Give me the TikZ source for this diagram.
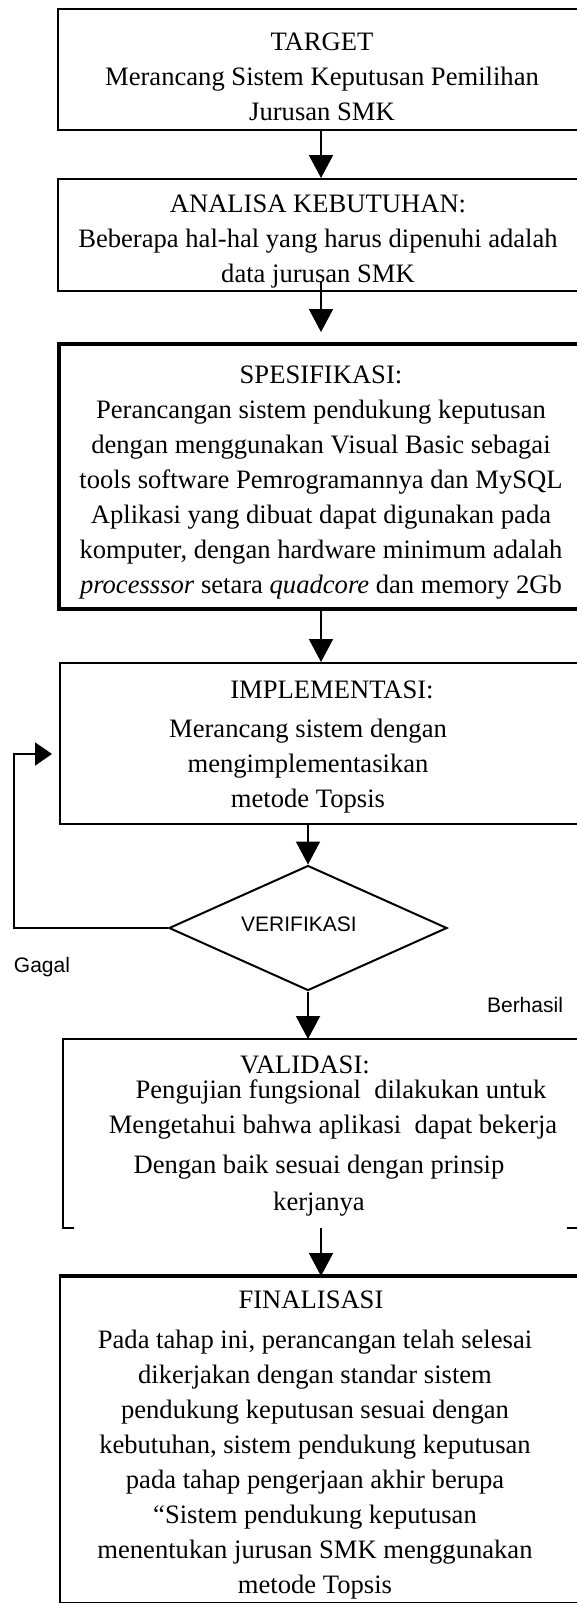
\documentclass[tikz,border=0pt]{standalone}
\usepackage{fontspec}
\setmainfont{Liberation Serif}
\setsansfont{Liberation Sans}
\usetikzlibrary{arrows.meta,shapes.geometric,calc}

\begin{document}
\begin{tikzpicture}[x=0.5pt,y=-0.5pt,
  stage/.style={draw,line width=1pt,anchor=north west,inner sep=0pt},
  txt/.style={anchor=base,align=center,inner sep=0pt,font=\fontsize{13.3}{17.5}\selectfont},
  cond/.style={draw,diamond,line width=1pt,minimum width=139pt,minimum height=62.5pt,inner sep=0pt},
  note/.style={anchor=base,inner sep=0pt,font=\sffamily\fontsize{10.5}{12}\selectfont},
  flow/.style={line width=1pt,-{Triangle[length=11.5pt,width=12pt]}}]
\useasboundingbox (0,0) rectangle (577,1603);
\clip (0,0) rectangle (577,1603);

% boxes
\node[stage,minimum width=264pt,minimum height=60.5pt] (target) at (57,8) {};
\node[stage,minimum width=264pt,minimum height=56pt] (analisa) at (57,178) {};
\node[stage,line width=1.75pt,minimum width=264pt,minimum height=132.5pt] (spek) at (57,342) {};
\node[stage,minimum width=262pt,minimum height=80.5pt] (impl) at (59,662) {};
\node[cond] (dia) at (308,928) {};
\node[stage,draw=none,minimum width=264pt,minimum height=93.5pt] (valid) at (63,1039) {};
\node[stage,line width=1.2pt,minimum width=262pt,minimum height=163pt] (final) at (59,1276) {};

% open box for validasi, thick top for finalisasi
\draw[line width=1pt] ($(valid.south west)+(11,0)$) -- (valid.south west) -- (valid.north west)
  -- (valid.north east) -- (valid.south east) -- ++(-26,0);
\draw[line width=2pt] (final.north west) -- (final.north east);

% texts (base = last line)
\node[txt] (target-txt) at (322,120) {TARGET\\Merancang Sistem Keputusan Pemilihan\\Jurusan SMK};
\node[txt] (analisa-txt) at (318,282) {ANALISA KEBUTUHAN:\\Beberapa hal-hal yang harus dipenuhi adalah\\data jurusan SMK};
\node[txt] (spek-txt) at (321,593) {SPESIFIKASI:\\Perancangan sistem pendukung keputusan\\dengan menggunakan Visual Basic sebagai\\tools software Pemrogramannya dan MySQL\\Aplikasi yang dibuat dapat digunakan pada\\komputer, dengan hardware minimum adalah\\\textit{processsor} setara \textit{quadcore} dan memory 2Gb};
\node[txt] (impl-head) at (332,698) {IMPLEMENTASI:};
\node[txt] (impl-txt) at (308,807) {Merancang sistem dengan\\mengimplementasikan\\metode Topsis};
\node[note] (dia-txt) at (299,931) {VERIFIKASI};
\node[note] (gagal) at (42,972) {Gagal};
\node[note] (berhasil) at (525,1012) {Berhasil};
\node[txt] (valid-head) at (305,1073) {VALIDASI:};
\foreach \x/\y/\t [count=\i] in {341/1098/Pengujian fungsional~ dilakukan untuk,
    333/1133/Mengetahui bahwa aplikasi~ dapat bekerja,
    319/1173/Dengan baik sesuai dengan prinsip,
    319/1210/kerjanya}
  \node[txt] (valid-\i) at (\x,\y) {\t};
\node[txt] (final-head) at (311,1308) {FINALISASI};
\node[txt] (final-txt) at (315,1593) {Pada tahap ini, perancangan telah selesai\\dikerjakan dengan standar sistem\\pendukung keputusan sesuai dengan\\kebutuhan, sistem pendukung keputusan\\pada tahap pengerjaan akhir berupa\\``Sistem pendukung keputusan\\menentukan jurusan SMK menggunakan\\metode Topsis};

% arrows
\coordinate (axis) at (321,0);
\coordinate (back) at (14,754);
\draw[flow] (axis |- target.south) -- (axis |- analisa.north);
\draw[flow] ($(axis |- analisa.south)+(0,-10)$) -- ($(axis |- spek.north)+(0,-10)$);
\draw[flow] (axis |- spek.south) -- (axis |- impl.north);
\draw[flow] (dia.north |- impl.south) -- (dia.north);
\draw[flow] (dia.south) -- (dia.south |- valid.north);
\draw[flow] (axis |- valid.south) -- (axis |- final.north);
\draw[line width=1pt,-{Triangle[length=8.5pt,width=11.5pt]}] (dia.west) -| (back)
  -- ($(impl.west |- back)+(-7,0)$);
\end{tikzpicture}
\end{document}
